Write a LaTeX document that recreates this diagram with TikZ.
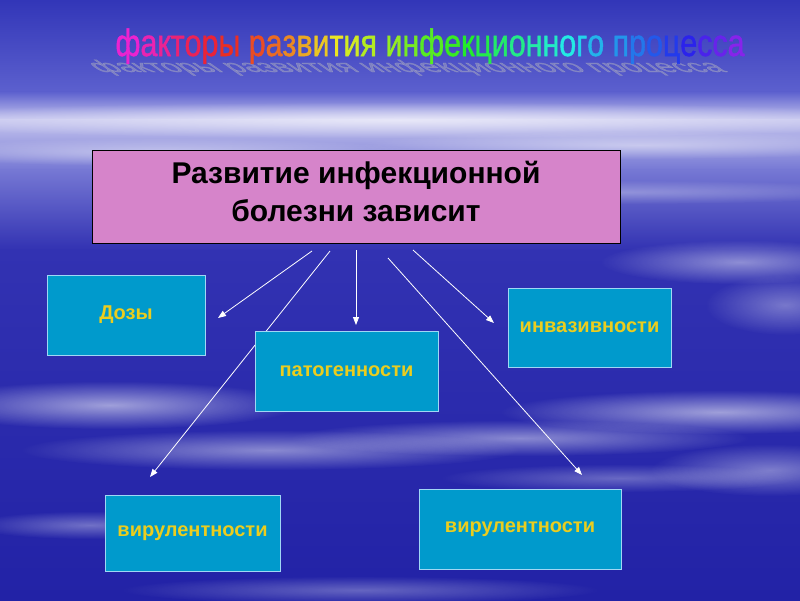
\documentclass[tikz,border=0pt]{standalone}
\usepackage{fontspec}
\setmainfont{Liberation Sans}
\newfontfamily\titlefont[FakeBold=1.3]{Liberation Sans}
\usetikzlibrary{arrows.meta,fadings}

\definecolor{skytop}{RGB}{50,54,184}
\definecolor{skyhaze}{RGB}{92,96,206}
\definecolor{skylight}{RGB}{196,196,238}
\definecolor{skymid}{RGB}{118,120,212}
\definecolor{skyblue}{RGB}{50,50,178}
\definecolor{skydeep}{RGB}{34,34,166}
\definecolor{boxcyan}{RGB}{0,154,204}
\definecolor{boxedge}{RGB}{160,215,245}
\definecolor{textyellow}{RGB}{235,205,30}
\definecolor{mainpink}{RGB}{214,132,202}

\tikzfading[name=softedge, inner color=transparent!0, outer color=transparent!100]

\newcounter{hueidx}
\newcommand\huechar[1]{%
  \pgfmathsetmacro\hueval{mod(308+9.2*\thehueidx,360)}%
  \definecolor{huecol}{Hsb}{\hueval,0.85,0.92}%
  \textcolor{huecol}{#1}\stepcounter{hueidx}}
\def\rainbowloop#1{\ifx#1\relax\else\ifx#1~\space\else\huechar{#1}\fi\expandafter\rainbowloop\fi}
\newcommand\rainbow[1]{\setcounter{hueidx}{0}\rainbowloop#1\relax}

\tikzset{
  cloud/.style={fill=white, path fading=softedge},
  headline/.style={anchor=base, inner sep=0pt, xscale=0.8, font=\titlefont\fontsize{38}{40}\selectfont},
  mainbox/.style={draw=black, line width=1pt, fill=mainpink, align=center, text depth=10pt,
    minimum width=528, minimum height=93, font=\bfseries\fontsize{30}{38}\selectfont},
  factor/.style={draw=boxedge, line width=1pt, fill=boxcyan, text=textyellow,
    font=\bfseries\fontsize{20}{22}\selectfont},
  link/.style={white, line width=0.8pt, -{Triangle[width=6pt,length=8pt]}}
}

\begin{document}
\begin{tikzpicture}[x=1pt,y=-1pt]
\useasboundingbox (0,0) rectangle (800,600);

\shade[top color=skytop, bottom color=skyhaze] (0,0) rectangle (800,92);
\shade[top color=skyhaze, bottom color=skylight] (0,91.5) rectangle (800,120);
\shade[top color=skylight, bottom color=skymid] (0,119.5) rectangle (800,170);
\shade[top color=skymid, bottom color=skyblue] (0,169.5) rectangle (800,250);
\shade[top color=skyblue, bottom color=skydeep] (0,249.5) rectangle (800,600);

\fill[cloud, opacity=0.6] (400,120) ellipse (560 and 18);
\fill[cloud, opacity=0.45] (160,152) ellipse (260 and 14);
\fill[cloud, opacity=0.45] (640,145) ellipse (280 and 14);
\fill[cloud, opacity=0.3] (620,192) ellipse (280 and 12);
\fill[cloud, opacity=0.45] (740,262) ellipse (140 and 22);
\fill[cloud, opacity=0.35] (785,305) ellipse (80 and 30);
\fill[cloud, opacity=0.55] (110,405) ellipse (190 and 24);
\fill[cloud, opacity=0.45] (270,450) ellipse (250 and 20);
\fill[cloud, opacity=0.45] (520,438) ellipse (230 and 18);
\fill[cloud, opacity=0.55] (720,412) ellipse (220 and 22);
\fill[cloud, opacity=0.4] (770,470) ellipse (120 and 26);
\fill[cloud, opacity=0.35] (90,525) ellipse (120 and 14);
\fill[cloud, opacity=0.3] (620,478) ellipse (180 and 14);
\fill[cloud, opacity=0.3] (360,590) ellipse (240 and 14);

\node[headline, text=gray!50, opacity=0.4, yscale=0.45, xslant=-0.8] (titleshade) at (414,72) {факторы развития инфекционного процесса};
\node[headline] (title) at (430,56) {\rainbow{факторы~развития~инфекционного~процесса}};

\coordinate (s1) at (312,251);
\coordinate (s2) at (330,251);
\coordinate (s3) at (356,250);
\coordinate (s4) at (388,258);
\coordinate (s5) at (413,250);
\coordinate (e1) at (218,318);
\coordinate (e2) at (150,477);
\coordinate (e3) at (356,325);
\coordinate (e4) at (582,475);
\coordinate (e5) at (494,323);

\draw[link] (s1) -- (e1);
\draw[link] (s2) -- (e2);
\draw[link] (s3) -- (e3);
\draw[link] (s4) -- (e4);
\draw[link] (s5) -- (e5);

\node[mainbox] (disease) at (356,196.5) {Развитие инфекционной\\болезни зависит};

\node[factor, minimum width=158, minimum height=80] (dose) at (126,315) {Дозы};
\node[factor, minimum width=183, minimum height=80] (pathogen) at (346.5,371) {патогенности};
\node[factor, minimum width=163, minimum height=79] (invasion) at (589.5,327.5) {инвазивности};
\node[factor, minimum width=175, minimum height=76] (virleft) at (192.5,533) {вирулентности};
\node[factor, minimum width=202, minimum height=80] (virright) at (520,529) {вирулентности};

\end{tikzpicture}
\end{document}
